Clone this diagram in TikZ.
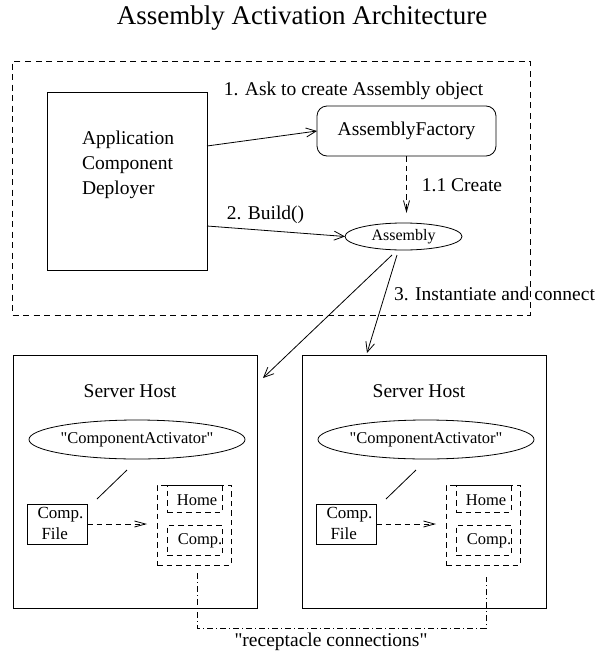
\documentclass[tikz,border=0pt]{standalone}
\usepackage{fontspec}
\setmainfont{Liberation Serif}
\usetikzlibrary{arrows.meta,shapes.geometric}

\begin{document}
\begin{tikzpicture}[x=1pt,y=-1pt,
  every node/.style={inner sep=0pt, outer sep=0pt},
  lbl/.style={font=\fontsize{19.5}{25}\selectfont},
  sml/.style={font=\fontsize{16.5}{20}\selectfont},
  box/.style={draw, line width=0.8pt, rectangle},
  oval/.style={draw, line width=0.8pt, ellipse},
  dbox/.style={draw, line width=0.8pt, rectangle, dash pattern=on 5.5pt off 4pt},
  link/.style={line width=0.8pt},
  callarrow/.style={line width=0.8pt, -{Straight Barb[length=10pt,width=9pt]}},
  dasharrow/.style={line width=0.8pt, dash pattern=on 5.5pt off 4pt,
                    -{Straight Barb[length=11pt,width=6pt]}},
  dashdotline/.style={line width=0.8pt, dash pattern=on 6pt off 3pt on 1pt off 3pt}
]
\useasboundingbox (0,0) rectangle (596,653);

% title
\node[font=\fontsize{27}{32}\selectfont] (title) at (302,18) {Assembly Activation Architecture};

% assembly subsystem
\node[draw, line width=0.8pt, dash pattern=on 6pt off 4.5pt,
      minimum width=517.5pt, minimum height=254pt] (sys) at (271.25,188) {};

\node[box, minimum width=159.5pt, minimum height=178pt] (app) at (127.25,181) {};
\node[lbl, align=left, anchor=west] (apptxt) at (82,165) {Application\\Component\\Deployer};

\node[box, rounded corners=10pt, minimum width=179pt, minimum height=50pt,
      lbl] (fac) at (406.5,131) {AssemblyFactory};

\node[oval, minimum width=117pt, minimum height=27pt,
      font=\fontsize{16}{19}\selectfont] (asm) at (403.5,236.5) {Assembly};

% labels of the calls
\node[lbl] (l1) at (353.5,91) {1. Ask to create Assembly object};
\node[lbl] (l11) at (462,185) {1.1 Create};
\node[lbl] (l2) at (265.5,215) {2. Build()};
\node[lbl] (l3) at (494.5,294) {3. Instantiate and connect};

% calls
\draw[callarrow] ([yshift=35pt]app.east) -- (fac.west);
\draw[callarrow] ([yshift=-45pt]app.east) -- (asm.west);
\coordinate (crt) at (406.5,213);
\draw[dasharrow] (fac.south) -- (crt);

% server hosts
\foreach \s/\dx in {L/0, R/289}{
  \node[box, minimum width=244pt, minimum height=253pt] (host\s) at (135+\dx,481.5) {};
  \node[lbl] (hname\s) at (130+\dx,391) {Server Host};
  \node[oval, minimum width=210pt, minimum height=39pt, sml] (act\s) at (137+\dx,439.5) {\textquotedbl ComponentActivator\textquotedbl};
  \node[box, minimum width=60pt, minimum height=40pt] (file\s) at (57+\dx,524) {};
  \node[sml, font=\fontsize{17}{20}\selectfont, anchor=west] (ftop\s) at (37.5+\dx,515) {Comp.};
  \node[sml, font=\fontsize{17}{20}\selectfont, anchor=west] (fbot\s) at (41.5+\dx,534) {File};
  \node[dbox, minimum width=74pt, minimum height=80pt] (grp\s) at (194+\dx,525) {};
  \node[dbox, minimum width=55pt, minimum height=27pt] (home\s) at (194.5+\dx,498.5) {};
  \node[dbox, minimum width=55pt, minimum height=30pt] (comp\s) at (194.5+\dx,540) {};
  \node[sml] (htxt\s) at (197+\dx,500) {Home};
  \node[sml] (ctxt\s) at (200+\dx,541) {Comp.};
  \coordinate (ua\s) at (127+\dx,470);
  \coordinate (ub\s) at (97+\dx,499);
  \draw[link] (ua\s) -- (ub\s);
  \coordinate (ld\s) at (147+\dx,524);
  \draw[dasharrow] (file\s.east) -- (ld\s);
}

% instantiation
\coordinate (s3a) at (392,255);
\coordinate (s3b) at (397,255);
\coordinate (t3a) at (263,378);
\coordinate (t3b) at (367,353);
\draw[callarrow] (s3a) -- (t3a);
\draw[callarrow] (s3b) -- (t3b);

% receptacle connections
\coordinate (rcL) at (197,573);
\coordinate (rcR) at (486,577);
\coordinate (rcM) at (197,628);
\draw[dashdotline] (rcL) -- (rcM) -| (rcR);
\node[lbl] (rc) at (331,642) {\textquotedbl receptacle connections\textquotedbl};
\end{tikzpicture}
\end{document}
